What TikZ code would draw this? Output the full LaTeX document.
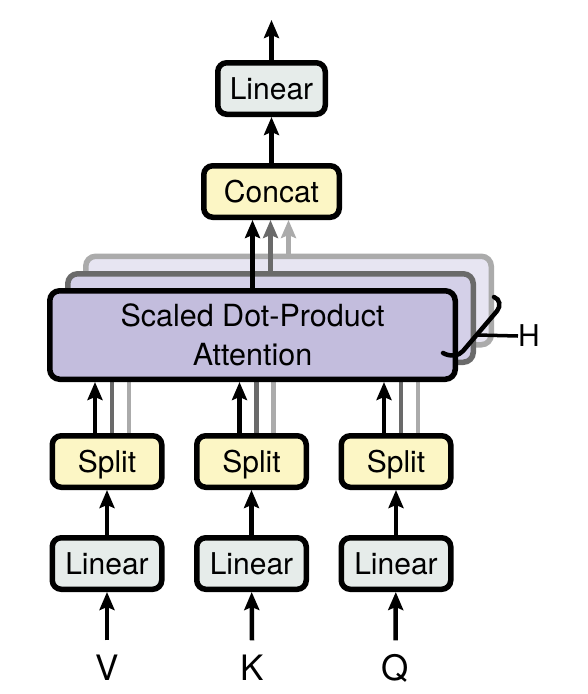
\documentclass[tikz,border=0pt]{standalone}
\usepackage{fontspec}
\setmainfont{TeX Gyre Heros}
\usetikzlibrary{arrows.meta}
\definecolor{attfill}{HTML}{C3BDDD}
\definecolor{attfilltwo}{HTML}{D4D0E8}
\definecolor{attfillthree}{HTML}{E7E5F2}
\definecolor{splitfill}{HTML}{FCF6C5}
\definecolor{linfill}{HTML}{E6ECEA}
\definecolor{midgray}{HTML}{6A6A6A}
\definecolor{palegray}{HTML}{ABABAB}
\begin{document}
\begin{tikzpicture}[x=1pt,y=-1pt,
  box/.style={draw, rounded corners=9pt, line width=5.5pt, inner sep=0pt,
    font=\fontsize{30}{34}\selectfont, text height=21.5pt, text depth=0pt,
    minimum height=51.5pt},
  linbox/.style={box, fill=linfill, minimum width=107.5pt},
  splitbox/.style={box, fill=splitfill, minimum width=109.5pt},
  attbox/.style={draw, rounded corners=10pt, line width=5.5pt, inner sep=0pt,
    minimum width=405.5pt, minimum height=88.5pt},
  inlabel/.style={inner sep=0pt, font=\fontsize{35}{40}\selectfont, text height=25pt, text depth=0pt},
  arr/.style={line width=4.5pt, -{Stealth[length=18pt,width=15pt,inset=3pt]}},
  ghost/.style={line width=4.5pt},
]
\useasboundingbox (0,0) rectangle (587,694);

% back heads
\node[attbox, draw=palegray, fill=attfillthree] (att3) at (288.5,300.5) {};
\node[attbox, draw=midgray, fill=attfilltwo] (att2) at (270.5,318) {};

% upper boxes
\node[box, fill=splitfill, minimum width=135.5pt] (concat) at (271.5,191.5) {Concat};
\node[linbox] (lin) at (271.5,88.5) {Linear};
\coordinate (out) at (271.5,20);

% bottom boxes
\node[splitbox] (s1) at (107,461.5) {Split};
\node[splitbox] (s2) at (251.5,461.5) {Split};
\node[splitbox] (s3) at (396,461.5) {Split};
\node[linbox, minimum width=109.5pt] (l1) at (107,563.5) {Linear};
\node[linbox, minimum width=109.5pt] (l2) at (251.5,563.5) {Linear};
\node[linbox, minimum width=109.5pt] (l3) at (396,563.5) {Linear};
\node[inlabel] (V) at (107,668) {V};
\node[inlabel] (K) at (252,668) {K};
\node[inlabel] (Q) at (395.5,668) {Q};

% gray connectors from back heads
\draw[arr, palegray] (att3.north) -- (att3.north |- concat.south);
\draw[arr, midgray] (att2.north) -- (att2.north |- concat.south);
\foreach \s in {s1,s2,s3}{
  \draw[ghost, midgray] ([xshift=5pt]\s.north) -- ([xshift=5pt]\s.north |- att2.south);
  \draw[ghost, palegray] ([xshift=22pt]\s.north) -- ([xshift=22pt]\s.north |- att3.south);
}

% front head
\node[attbox, fill=attfill, align=center, font=\fontsize{30.5}{39}\selectfont]
  (att) at (252.5,335) {Scaled Dot-Product\\Attention};

% black connectors
\draw[arr] (att.north) -- (att.north |- concat.south);
\draw[arr] (concat) -- (lin);
\draw[arr] (lin) -- (out);
\foreach \s/\l/\i in {s1/l1/V,s2/l2/K,s3/l3/Q}{
  \draw[arr] ([xshift=-12pt]\s.north) -- ([xshift=-12pt]\s.north |- att.south);
  \draw[arr] (\l) -- (\s);
  \draw[arr] ([yshift=15pt]\i.north) -- (\l);
}

% brace for H heads
\coordinate (bt) at (494,297);
\coordinate (bb) at (443,353);
\coordinate (tk) at (477,335);
\node[inner sep=0pt, font=\fontsize{30}{36}\selectfont, text height=21pt, text depth=0pt, anchor=west] (H) at (518,336) {H};
\draw[line width=4.5pt, line cap=round] (bt) .. controls (500,299) and (501,306) .. (497,311) -- (463,351) .. controls (459,356) and (450,357) .. (bb);
\draw[line width=3.5pt] (tk) -- (H.west);
\end{tikzpicture}
\end{document}
